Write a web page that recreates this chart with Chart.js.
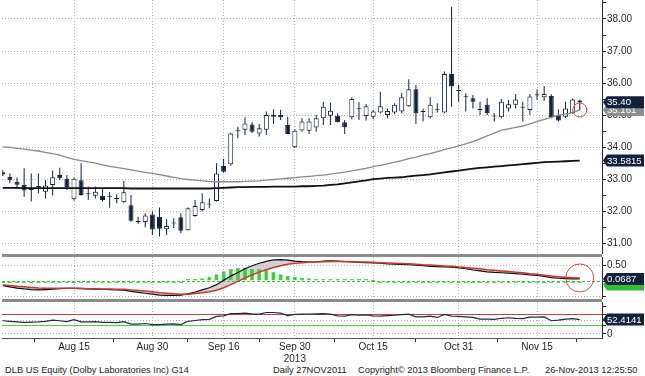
<!DOCTYPE html>
<html>
<head>
<meta charset="utf-8">
<script src="https://cdn.jsdelivr.net/npm/chart.js@4.4.1/dist/chart.umd.min.js"></script>
<style>
  body { margin: 0; background: #fff; width: 645px; height: 376px; overflow: hidden; position: relative; font-family: 'Liberation Sans', Arial, sans-serif; }
  .panel { position: absolute; left: 0; width: 645px; }
  .panel canvas { display: block; }
  .sep { position: absolute; left: 2px; width: 600px; height: 3px; background: #8c8c8c; }
  .foot { position: absolute; top: 364px; font-size: 9.3px; line-height: 12px; color: #222; white-space: nowrap; }
</style>
</head>
<body>
<div class="panel" style="top:0;height:254px"><canvas id="priceChart" width="645" height="254"></canvas></div>
<div class="sep" style="top:254px"></div>
<div class="panel" style="top:257px;height:42px"><canvas id="macdChart" width="645" height="42"></canvas></div>
<div class="sep" style="top:299px"></div>
<div class="panel" style="top:302px;height:60px"><canvas id="rsiChart" width="645" height="60"></canvas></div>
<div class="foot" style="left:5px">DLB US Equity (Dolby Laboratories Inc) G14</div>
<div class="foot" style="left:273px">Daily 27NOV2011</div>
<div class="foot" style="left:358px">Copyright© 2013 Bloomberg Finance L.P.</div>
<div class="foot" style="left:545px">26-Nov-2013 12:25:50</div>
<script>
// trading days shown on the chart
const dates = [
    'Aug 1', 'Aug 2', 'Aug 5', 'Aug 6', 'Aug 7', 'Aug 8', 'Aug 9', 'Aug 12', 'Aug 13', 'Aug 14',
    'Aug 15', 'Aug 16', 'Aug 19', 'Aug 20', 'Aug 21', 'Aug 22', 'Aug 23', 'Aug 26', 'Aug 27', 'Aug 28',
    'Aug 29', 'Aug 30', 'Sep 3', 'Sep 4', 'Sep 5', 'Sep 6', 'Sep 9', 'Sep 10', 'Sep 11', 'Sep 12',
    'Sep 13', 'Sep 16', 'Sep 17', 'Sep 18', 'Sep 19', 'Sep 20', 'Sep 23', 'Sep 24', 'Sep 25', 'Sep 26',
    'Sep 27', 'Sep 30', 'Oct 1', 'Oct 2', 'Oct 3', 'Oct 4', 'Oct 7', 'Oct 8', 'Oct 9', 'Oct 10',
    'Oct 11', 'Oct 14', 'Oct 15', 'Oct 16', 'Oct 17', 'Oct 18', 'Oct 21', 'Oct 22', 'Oct 23', 'Oct 24',
    'Oct 25', 'Oct 28', 'Oct 29', 'Oct 30', 'Oct 31', 'Nov 1', 'Nov 4', 'Nov 5', 'Nov 6', 'Nov 7',
    'Nov 8', 'Nov 11', 'Nov 12', 'Nov 13', 'Nov 14', 'Nov 15', 'Nov 18', 'Nov 19', 'Nov 20', 'Nov 21',
    'Nov 22', 'Nov 25'
];

const opens = [
    33.22, 33.07, 32.92, 32.82, 32.69, 32.76, 32.61, 32.82, 33.13, 33.01,
    32.37, 32.97, 32.55, 32.48, 32.48, 32.46, 32.40, 32.28, 32.19, 31.68,
    31.66, 31.90, 31.83, 31.44, 31.62, 31.81, 31.41, 31.85, 32.04, 32.21,
    32.32, 33.41, 33.47, 34.50, 34.54, 34.71, 34.43, 34.54, 34.95, 35.01,
    34.69, 34.00, 34.52, 34.51, 34.61, 34.90, 34.98, 34.98, 34.78, 34.93,
    35.18, 34.97, 34.95, 35.08, 35.00, 35.08, 35.11, 35.28, 35.81, 35.10,
    34.93, 35.18, 35.08, 36.28, 35.78, 35.56, 35.53, 35.19, 35.32, 34.96,
    34.93, 35.21, 35.32, 35.23, 35.16, 35.65, 35.56, 35.60, 35.00, 34.95,
    35.06, 35.46
];
const highs = [
    33.28, 33.18, 33.05, 33.34, 33.18, 33.18, 32.97, 33.27, 33.36, 33.13,
    33.05, 33.50, 32.77, 32.77, 32.72, 32.60, 32.53, 32.94, 32.51, 31.83,
    31.94, 31.99, 32.12, 31.76, 31.78, 31.94, 32.12, 32.35, 32.56, 32.40,
    33.50, 33.64, 34.45, 34.64, 34.93, 34.78, 34.72, 35.11, 35.18, 35.17,
    34.95, 34.56, 34.90, 34.90, 35.00, 35.42, 35.39, 35.06, 34.85, 35.56,
    35.40, 35.35, 35.16, 35.73, 35.21, 35.37, 35.70, 36.12, 35.94, 35.21,
    35.56, 35.37, 36.36, 38.38, 35.94, 35.68, 35.63, 35.42, 35.53, 35.06,
    35.50, 35.47, 35.66, 35.42, 35.66, 35.81, 35.91, 35.65, 35.18, 35.42,
    35.52, 35.49
];
const lows = [
    33.10, 32.87, 32.72, 32.45, 32.30, 32.55, 32.40, 32.49, 32.97, 32.66,
    32.33, 32.48, 32.35, 32.40, 32.30, 32.11, 32.25, 32.25, 31.67, 31.60,
    31.50, 31.26, 31.21, 31.26, 31.48, 31.31, 31.40, 31.83, 31.99, 32.09,
    32.30, 33.20, 33.42, 34.28, 34.38, 34.45, 34.33, 34.38, 34.72, 34.85,
    34.41, 33.97, 34.48, 34.41, 34.48, 34.69, 34.69, 34.77, 34.41, 34.87,
    34.85, 34.83, 34.87, 35.06, 34.90, 35.03, 35.06, 35.26, 34.72, 34.80,
    34.90, 35.08, 35.06, 35.26, 35.42, 35.11, 35.21, 35.00, 35.00, 34.80,
    34.90, 35.11, 35.21, 34.80, 35.00, 35.47, 35.45, 34.90, 34.80, 34.90,
    35.04, 35.15
];
const closes = [
    33.15, 32.97, 32.83, 32.65, 32.66, 32.78, 32.80, 33.06, 33.03, 32.75,
    33.01, 32.51, 32.53, 32.61, 32.35, 32.44, 32.38, 32.59, 31.70, 31.66,
    31.87, 31.43, 31.45, 31.54, 31.65, 31.39, 32.09, 32.16, 32.28, 32.23,
    33.18, 33.23, 34.43, 34.52, 34.74, 34.48, 34.59, 35.00, 35.01, 34.93,
    34.41, 34.51, 34.80, 34.80, 34.90, 35.26, 35.14, 34.78, 34.62, 35.50,
    35.20, 35.28, 35.11, 35.28, 35.13, 35.32, 35.56, 35.81, 35.06, 35.12,
    35.32, 35.15, 36.28, 35.89, 35.75, 35.58, 35.42, 35.16, 35.06, 34.98,
    35.42, 35.34, 35.49, 35.25, 35.58, 35.61, 35.66, 34.93, 34.83, 35.21,
    35.49, 35.40
];

// moving averages on the price panel
const maGray = [
    34.01, 33.99, 33.96, 33.94, 33.91, 33.88, 33.84, 33.80, 33.75, 33.68,
    33.62, 33.58, 33.54, 33.50, 33.45, 33.40, 33.37, 33.33, 33.29, 33.25,
    33.21, 33.18, 33.14, 33.10, 33.06, 33.02, 32.99, 32.97, 32.95, 32.93,
    32.92, 32.92, 32.92, 32.92, 32.93, 32.94, 32.95, 32.97, 32.99, 33.01,
    33.03, 33.05, 33.07, 33.09, 33.11, 33.13, 33.16, 33.19, 33.22, 33.26,
    33.30, 33.34, 33.39, 33.43, 33.48, 33.53, 33.58, 33.64, 33.69, 33.75,
    33.80, 33.86, 33.92, 33.98, 34.04, 34.10, 34.17, 34.26, 34.35, 34.44,
    34.53, 34.57, 34.62, 34.66, 34.73, 34.80, 34.87, 34.93, 34.99, 35.03,
    35.08, 35.161
];
const maBlack = [
    32.73, 32.73, 32.73, 32.72, 32.72, 32.72, 32.72, 32.72, 32.72, 32.72,
    32.72, 32.72, 32.72, 32.72, 32.72, 32.72, 32.72, 32.72, 32.71, 32.71,
    32.71, 32.71, 32.71, 32.71, 32.71, 32.71, 32.71, 32.71, 32.71, 32.71,
    32.72, 32.73, 32.74, 32.75, 32.75, 32.76, 32.76, 32.76, 32.77, 32.77,
    32.77, 32.77, 32.78, 32.78, 32.79, 32.80, 32.82, 32.84, 32.87, 32.90,
    32.93, 32.96, 33.00, 33.02, 33.04, 33.05, 33.06, 33.09, 33.11, 33.13,
    33.15, 33.18, 33.21, 33.24, 33.27, 33.30, 33.33, 33.35, 33.37, 33.39,
    33.41, 33.43, 33.45, 33.47, 33.49, 33.51, 33.53, 33.54, 33.55, 33.56,
    33.57, 33.5815
];

// MACD panel
const macdLine = [
    -0.15, -0.19, -0.23, -0.26, -0.28, -0.29, -0.28, -0.27, -0.25, -0.24,
    -0.24, -0.25, -0.26, -0.27, -0.27, -0.28, -0.29, -0.30, -0.34, -0.37,
    -0.40, -0.43, -0.46, -0.47, -0.47, -0.46, -0.42, -0.36, -0.29, -0.22,
    -0.12, 0.02, 0.16, 0.28, 0.40, 0.50, 0.58, 0.64, 0.69, 0.70,
    0.68, 0.65, 0.63, 0.62, 0.62, 0.65, 0.66, 0.65, 0.63, 0.62,
    0.61, 0.60, 0.59, 0.58, 0.56, 0.55, 0.54, 0.53, 0.52, 0.50,
    0.48, 0.47, 0.46, 0.45, 0.43, 0.40, 0.36, 0.33, 0.30, 0.28,
    0.27, 0.26, 0.24, 0.22, 0.20, 0.18, 0.15, 0.11, 0.09, 0.08,
    0.07, 0.0687
];
const macdSignal = [
    -0.13, -0.15, -0.17, -0.19, -0.21, -0.23, -0.24, -0.24, -0.24, -0.24,
    -0.24, -0.24, -0.25, -0.25, -0.26, -0.26, -0.27, -0.27, -0.29, -0.31,
    -0.33, -0.35, -0.38, -0.40, -0.42, -0.43, -0.43, -0.41, -0.38, -0.35,
    -0.30, -0.22, -0.12, -0.01, 0.10, 0.20, 0.29, 0.37, 0.44, 0.50,
    0.55, 0.58, 0.60, 0.61, 0.62, 0.63, 0.64, 0.64, 0.64, 0.63,
    0.62, 0.62, 0.61, 0.60, 0.59, 0.58, 0.57, 0.56, 0.55, 0.53,
    0.52, 0.51, 0.49, 0.48, 0.46, 0.44, 0.42, 0.40, 0.37, 0.35,
    0.33, 0.31, 0.29, 0.27, 0.24, 0.22, 0.19, 0.16, 0.14, 0.12,
    0.11, 0.10
];
const macdHist = [
    -0.04, -0.04, -0.05, -0.07, -0.08, -0.06, -0.04, -0.03, -0.02, -0.01,
    -0.01, -0.02, -0.02, -0.02, -0.02, -0.02, -0.02, -0.02, -0.03, -0.04,
    -0.05, -0.06, -0.06, -0.05, -0.05, -0.04, 0.02, 0.05, 0.09, 0.14,
    0.22, 0.32, 0.39, 0.43, 0.44, 0.40, 0.38, 0.35, 0.30, 0.22,
    0.17, 0.14, 0.11, 0.09, 0.07, 0.05, 0.04, 0.04, 0.03, 0.02,
    0.01, 0.01, 0.00, -0.01, -0.01, -0.01, -0.02, -0.02, -0.03, -0.03,
    -0.03, -0.02, -0.01, -0.02, -0.03, -0.04, -0.05, -0.06, -0.07, -0.07,
    -0.06, -0.06, -0.06, -0.05, -0.05, -0.03, -0.03, -0.04, -0.04, -0.03,
    -0.03, -0.02
];

// RSI panel
const rsi = [
    48, 46, 44, 42, 43, 44, 46, 50, 48, 45,
    52, 44, 44, 45, 42, 42, 41, 45, 36, 36,
    38, 34, 34, 36, 37, 34, 46, 49, 52, 53,
    64, 66, 74, 74, 76, 73, 72, 78, 78, 76,
    67, 71, 72, 72, 73, 74, 72, 66, 65, 70,
    68, 69, 66, 65, 67, 68, 70, 72, 62, 62,
    65, 60, 71, 65, 64, 62, 60, 54, 54, 53,
    57, 59, 57, 56, 61, 61, 62, 48, 50, 54,
    56, 52.4141
];

// axis labels
const tickDates = ['Aug 15', 'Aug 30', 'Sep 16', 'Sep 30', 'Oct 15', 'Oct 31', 'Nov 15'];
const yearLabel = { date: 'Sep 30', text: '2013' };
const priceTicks = [31, 31.5, 32, 32.5, 33, 33.5, 34, 34.5, 35, 35.5, 36, 36.5, 37, 37.5, 38, 38.5];
const macdTicks = [-0.5, 0, 0.5];
const rsiTicks = [0, 30, 50, 70, 100];

const NAVY = '#13213d';
const GRID = '#b4b4b4';
const AXIS = '#2a2a2a';
const CLEAR = 'rgba(0,0,0,0)';

Chart.defaults.font.family = "'Liberation Sans', Arial, sans-serif";
Chart.defaults.font.size = 10;
Chart.defaults.color = '#1e1e1e';

const last = dates.length - 1;
const tickIndex = tickDates.map(d => dates.indexOf(d));
// unlabelled marks half way between the labelled dates
const minorIndex = tickIndex.map((v, i) => i === 0 ? v - (tickIndex[1] - v) / 2 : (v + tickIndex[i - 1]) / 2);
minorIndex.push(tickIndex[tickIndex.length - 1] + (tickIndex[tickIndex.length - 1] - tickIndex[tickIndex.length - 2]) / 2);
const xTicks = minorIndex.concat(tickIndex).sort((a, b) => a - b);

function points(arr) {
    return arr.map((v, i) => ({ x: i, y: v }));
}

function isLabelled(ctx) {
    return ctx.tick && tickIndex.includes(ctx.tick.value);
}

function xScale(showLabels) {
    return {
        type: 'linear',
        min: -0.108,
        max: 84.12,
        offset: false,
        afterBuildTicks: axis => { axis.ticks = xTicks.map(v => ({ value: v })); },
        afterFit: axis => {
            axis.height = showLabels ? 24 : 0;
            axis.paddingLeft = 0;
            axis.paddingRight = 0;
        },
        ticks: {
            display: showLabels,
            autoSkip: false,
            maxRotation: 0,
            padding: -1,
            callback: function(value) {
                const k = tickIndex.indexOf(value);
                if (k < 0) return '';
                return tickDates[k] === yearLabel.date ? [tickDates[k], yearLabel.text] : tickDates[k];
            }
        },
        grid: {
            offset: false,
            color: ctx => isLabelled(ctx) ? GRID : CLEAR,
            drawTicks: showLabels,
            tickLength: 4,
            tickColor: ctx => isLabelled(ctx) ? CLEAR : AXIS
        },
        border: { display: showLabels, color: '#555', dash: [1, 2] }
    };
}

function yScale(min, max, values, label, gridColor, gridDash) {
    return {
        position: 'right',
        min: min,
        max: max,
        afterBuildTicks: axis => { axis.ticks = values.map(v => ({ value: v })); },
        afterFit: axis => {
            axis.width = 43;
            axis.paddingTop = 0;
            axis.paddingBottom = 0;
        },
        ticks: { autoSkip: false, padding: 1, callback: label },
        grid: { color: gridColor, tickLength: 4, tickColor: AXIS },
        border: { color: AXIS, dash: gridDash }
    };
}

function drawTag(ctx, x, y, text, fill, color) {
    ctx.save();
    ctx.beginPath();
    ctx.moveTo(x, y);
    ctx.lineTo(x + 4, y - 6);
    ctx.lineTo(x + 41, y - 6);
    ctx.lineTo(x + 41, y + 6);
    ctx.lineTo(x + 4, y + 6);
    ctx.closePath();
    ctx.fillStyle = fill;
    ctx.fill();
    if (text) {
        ctx.fillStyle = color;
        ctx.font = "9.6px 'Liberation Sans', Arial, sans-serif";
        ctx.textBaseline = 'middle';
        ctx.fillText(text, x + 4, y + 0.5);
    }
    ctx.restore();
}

// last-value tags on the right axis and red rings drawn by hand on the original
function marks(tags, rings) {
    return {
        id: 'marks',
        afterDraw(chart) {
            const { ctx, chartArea, scales } = chart;
            tags.forEach(t => {
                drawTag(ctx, chartArea.right + 1, scales.y.getPixelForValue(t.value) + (t.shift || 0), t.text, t.fill, t.color);
            });
            rings.forEach(r => {
                ctx.save();
                ctx.beginPath();
                ctx.arc(scales.x.getPixelForValue(r.x), scales.y.getPixelForValue(r.y), r.radius, 0, Math.PI * 2);
                ctx.strokeStyle = '#d8453f';
                ctx.lineWidth = 1;
                ctx.stroke();
                ctx.restore();
            });
        }
    };
}

const baseOptions = {
    responsive: false,
    animation: false,
    devicePixelRatio: 1,
    layout: { padding: { left: 2, right: 0, top: 0, bottom: 0 } },
    plugins: { legend: { display: false }, tooltip: { enabled: false } }
};

// price panel: candles + two moving averages
new Chart(document.getElementById('priceChart').getContext('2d'), {
    type: 'bar',
    data: {
        datasets: [
            { type: 'line', label: 'MA gray', data: points(maGray), borderColor: '#8a8a8a', borderWidth: 1.3, pointRadius: 0, order: 0 },
            { type: 'line', label: 'MA black', data: points(maBlack), borderColor: '#111', borderWidth: 1.8, pointRadius: 0, order: 0 },
            {
                label: 'Body',
                data: opens.map((o, i) => ({ x: i, y: [o, closes[i]] })),
                backgroundColor: opens.map((o, i) => closes[i] >= o ? '#ffffff' : NAVY),
                borderColor: NAVY,
                borderWidth: 1,
                borderSkipped: false,
                grouped: false,
                maxBarThickness: 5,
                minBarLength: 1,
                order: 1
            },
            {
                label: 'Wick',
                data: lows.map((l, i) => ({ x: i, y: [l, highs[i]] })),
                backgroundColor: NAVY,
                grouped: false,
                maxBarThickness: 1,
                order: 2
            }
        ]
    },
    options: {
        ...baseOptions,
        scales: {
            x: xScale(false),
            y: yScale(30.665, 38.593, priceTicks,
                v => Number.isInteger(v) ? v.toFixed(2) : '',
                ctx => ctx.tick && Number.isInteger(ctx.tick.value) ? GRID : CLEAR,
                [1, 2])
        }
    },
    plugins: [marks([
        { value: maBlack[last], text: String(maBlack[last]), fill: NAVY, color: '#fff' },
        { value: maGray[last], text: String(maGray[last]), fill: '#8e8e8e', color: '#fff' },
        { value: closes[last], text: closes[last].toFixed(2), fill: NAVY, color: '#fff' }
    ], [
        { x: last, y: maGray[last], radius: 7 }
    ])]
});

// MACD panel
new Chart(document.getElementById('macdChart').getContext('2d'), {
    type: 'bar',
    data: {
        datasets: [
            { type: 'line', label: 'MACD', data: points(macdLine), borderColor: '#111', borderWidth: 1.2, pointRadius: 0, order: 1 },
            {
                type: 'line', label: 'Signal', data: points(macdSignal), borderColor: '#c8372f', borderWidth: 1.5, pointRadius: 0,
                fill: '-1', backgroundColor: 'rgba(175,175,175,0.55)', order: 0
            },
            {
                label: 'Diff', data: points(macdHist), backgroundColor: '#38d038', borderColor: '#22a822', borderWidth: 0.5,
                grouped: false, maxBarThickness: 4, minBarLength: 2, order: 2
            }
        ]
    },
    options: {
        ...baseOptions,
        plugins: { ...baseOptions.plugins, filler: { drawTime: 'beforeDatasetsDraw' } },
        scales: {
            x: xScale(false),
            y: yScale(-0.588, 0.784, macdTicks,
                v => v === 0.5 ? v.toFixed(2) : '',
                ctx => ctx.tick && ctx.tick.value === 0 ? '#3cc43c' : GRID,
                ctx => ctx.tick && ctx.tick.value === 0 ? [3, 2] : [1, 2])
        }
    },
    plugins: [marks([
        { value: macdHist[last], text: '', fill: '#2fbf2f', color: '#fff', shift: 3 },
        { value: macdLine[last], text: String(macdLine[last]), fill: NAVY, color: '#fff' }
    ], [
        { x: last, y: macdSignal[last], radius: 14 }
    ])]
});

// RSI panel with the 70 / 30 bands
new Chart(document.getElementById('rsiChart').getContext('2d'), {
    type: 'line',
    data: {
        datasets: [
            { label: 'RSI', data: points(rsi), borderColor: '#1e2c4c', borderWidth: 1.2, pointRadius: 0 }
        ]
    },
    options: {
        ...baseOptions,
        scales: {
            x: xScale(true),
            y: yScale(-14.7, 116.2, rsiTicks,
                v => v === 0 ? '0' : '',
                ctx => {
                    if (!ctx.tick) return GRID;
                    if (ctx.tick.value === 70) return '#d23c3c';
                    if (ctx.tick.value === 30) return '#4ccc4c';
                    if (ctx.tick.value === 100) return CLEAR;
                    return GRID;
                },
                ctx => ctx.tick && (ctx.tick.value === 70 || ctx.tick.value === 30) ? [] : [1, 2])
        }
    },
    plugins: [marks([
        { value: rsi[last], text: String(rsi[last]), fill: NAVY, color: '#fff' }
    ], [])]
});
</script>
</body>
</html>
